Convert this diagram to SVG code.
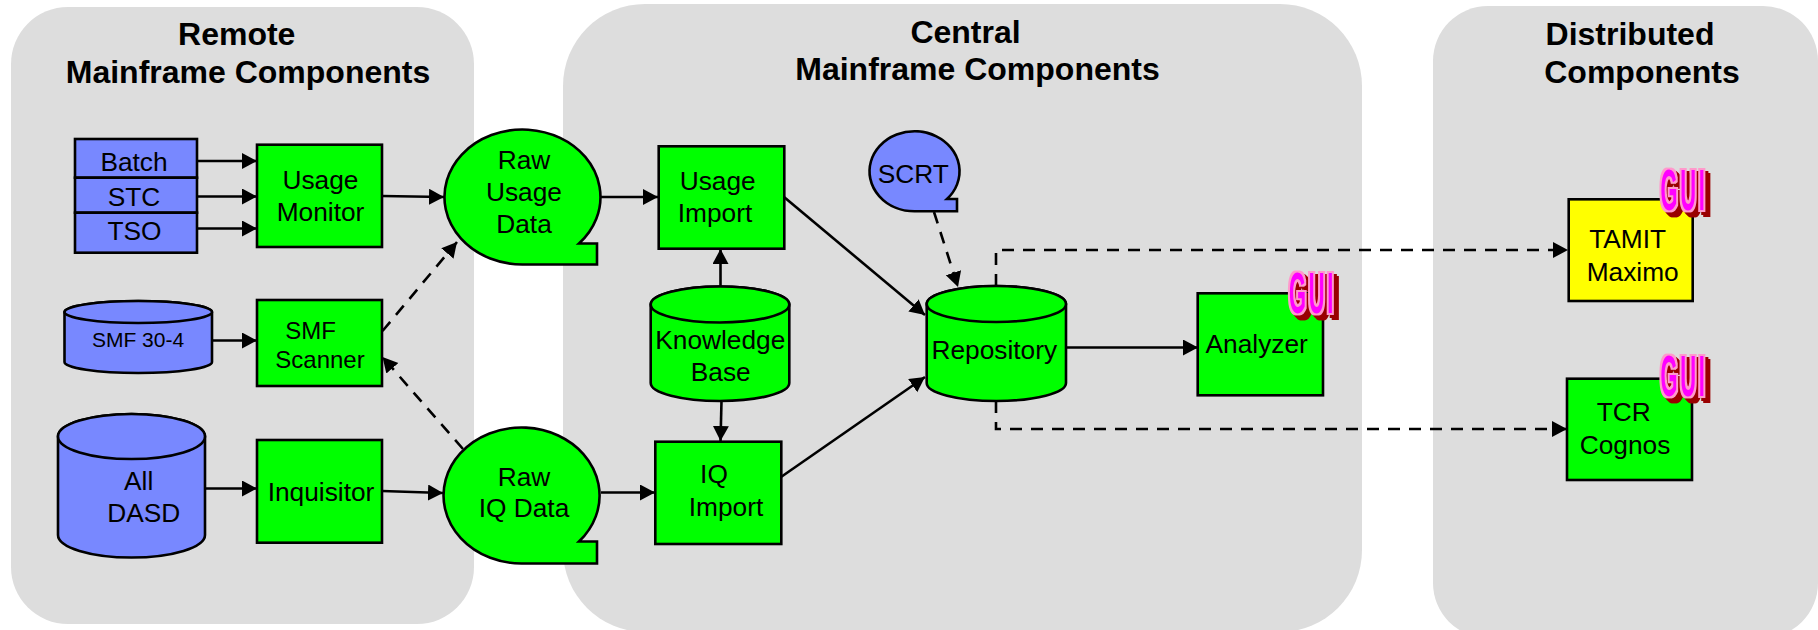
<svg xmlns="http://www.w3.org/2000/svg" width="1818" height="630" viewBox="0 0 1818 630">
<style>
text{font-family:"Liberation Sans",Arial,sans-serif;font-size:26.300px;fill:#000;text-anchor:middle}
.title{font-size:32px;font-weight:bold}
.panel{fill:#dddddd}
.b{stroke:#000;stroke-width:2.6;stroke-linejoin:miter}
.g{fill:#00ff00}
.u{fill:#7888ff}
.y{fill:#ffff00}
.c{fill:none;stroke:#000;stroke-width:2.6;marker-end:url(#a)}
.d{stroke-dasharray:12 9}
.gui{font-size:57px;font-weight:bold;letter-spacing:7px;fill:#ff00ff;text-anchor:start;filter:url(#s)}
</style>
<defs>
<marker id="a" markerUnits="userSpaceOnUse" markerWidth="16" markerHeight="18" refX="15" refY="8" orient="auto">
<path d="M0,0L15,8L0,16Z" fill="#000"/>
</marker>
<filter id="s" x="-20%" y="-20%" width="150%" height="150%" color-interpolation-filters="sRGB">
<feMorphology in="SourceAlpha" operator="dilate" radius="2" result="fat"/>
<feFlood flood-color="#ff99cc"/>
<feComposite in2="fat" operator="in" result="halo"/>
<feOffset in="fat" dx="5" dy="5" result="o1"/>
<feOffset in="fat" dx="2.5" dy="2.5" result="o2"/>
<feMerge result="m"><feMergeNode in="o1"/><feMergeNode in="o2"/></feMerge>
<feFlood flood-color="#990000"/>
<feComposite in2="m" operator="in" result="sh"/>
<feMerge><feMergeNode in="sh"/><feMergeNode in="halo"/><feMergeNode in="SourceGraphic"/></feMerge>
</filter>
</defs>

<g id="panels">
<g id="panel-remote"><rect class="panel" x="11" y="7" width="463" height="617" rx="57"/><text class="title" x="236.700" y="45">Remote</text><text class="title" x="248" y="83">Mainframe Components</text></g>
<g id="panel-central"><rect class="panel" x="563" y="4" width="799" height="628" rx="82"/><text class="title" x="965.500" y="42.500">Central</text><text class="title" x="977.500" y="79.500">Mainframe Components</text></g>
<g id="panel-distributed"><rect class="panel" x="1433" y="6" width="385" height="632" rx="55"/><text class="title" x="1630" y="45">Distributed</text><text class="title" x="1642" y="83">Components</text></g>
</g>

<g id="connectors">
<path class="c" d="M197,161H257"/>
<path class="c" d="M197,196.500H257"/>
<path class="c" d="M197,228.500H257"/>
<path class="c" d="M382,196L444,197"/>
<path class="c" d="M212,340.500H257"/>
<path class="c d" d="M382.500,331L457,242"/>
<path class="c d" d="M463,449L382.500,357"/>
<path class="c" d="M205,488.500H257"/>
<path class="c" d="M382,491L443,493"/>
<path class="c" d="M601,197H658"/>
<path class="c" d="M601,492.500H655"/>
<path class="c" d="M720.500,287V249"/>
<path class="c" d="M721.500,401L720.500,441"/>
<path class="c" d="M784,197L925,315"/>
<path class="c" d="M781,477L925,377"/>
<path class="c d" d="M934,212L958,287"/>
<path class="c" d="M1066,347.500H1198"/>
<path class="c d" d="M996,286V250H1568"/>
<path class="c d" d="M996,401V429H1567"/>
</g>

<g id="stack">
<rect class="b u" x="75" y="139" width="122" height="38.700"/><text x="134" y="170.500">Batch</text>
<rect class="b u" x="75" y="177.700" width="122" height="35"/><text x="134" y="205.500">STC</text>
<rect class="b u" x="75" y="212.700" width="122" height="40"/><text x="134.500" y="240">TSO</text>
</g>
<g id="usage-monitor"><rect class="b g" x="257" y="144.700" width="125" height="102.300"/><text x="320.500" y="189">Usage</text><text x="320.500" y="220.500">Monitor</text></g>
<g id="raw-usage"><path class="b g" d="M523,264.500A78,67.500 0 1 1 579,243.500H597V264.500Z"/><text x="524" y="168.800">Raw</text><text x="524" y="200.500">Usage</text><text x="524" y="232.800">Data</text></g>
<g id="smf-30-4"><path class="b u" d="M64.500,312V362A73.750,11 0 0 0 212,362V312A73.750,11 0 0 0 64.500,312Z"/><ellipse class="b u" cx="138.250" cy="312" rx="73.750" ry="11"/><text x="138" y="347" style="font-size:21px">SMF 30-4</text></g>
<g id="smf-scanner"><rect class="b g" x="257" y="300" width="125" height="86"/><text x="310.500" y="338.500" style="font-size:24px">SMF</text><text x="320" y="368" style="font-size:24px">Scanner</text></g>
<g id="all-dasd"><path class="b u" d="M58,436.500V535A73.500,22.500 0 0 0 205,535V436.500A73.500,22.500 0 0 0 58,436.500Z"/><ellipse class="b u" cx="131.500" cy="436.500" rx="73.500" ry="22.500"/><text x="138.700" y="490">All</text><text x="143.700" y="522">DASD</text></g>
<g id="inquisitor"><rect class="b g" x="257" y="440" width="125" height="102.700"/><text x="321" y="500.500">Inquisitor</text></g>
<g id="raw-iq"><path class="b g" d="M523,563.500A78,68 0 1 1 579,541.500H597V563.500Z"/><text x="524" y="485.500">Raw</text><text x="524" y="517">IQ Data</text></g>
<g id="usage-import"><rect class="b g" x="658.700" y="146.300" width="125.600" height="102.400"/><text x="717.700" y="190">Usage</text><text x="715" y="222">Import</text></g>
<g id="knowledge-base"><path class="b g" d="M650.700,304.500V383A69.300,18 0 0 0 789.300,383V304.500A69.300,18 0 0 0 650.700,304.500Z"/><ellipse class="b g" cx="720" cy="304.500" rx="69.300" ry="18"/><text x="720.300" y="349">Knowledge</text><text x="720.700" y="381">Base</text></g>
<g id="iq-import"><rect class="b g" x="655.300" y="441.700" width="126" height="102.300"/><text x="714" y="483">IQ</text><text x="726" y="515.500">Import</text></g>
<g id="scrt"><path class="b u" d="M915,211.300A45,40 0 1 1 947,199H957V211.300Z"/><text x="913.300" y="183">SCRT</text></g>
<g id="repository"><path class="b g" d="M926.700,304V383A69.650,18 0 0 0 1066,383V304A69.650,18 0 0 0 926.700,304Z"/><ellipse class="b g" cx="996.350" cy="304" rx="69.650" ry="18"/><text x="994.300" y="359">Repository</text></g>
<g id="analyzer"><rect class="b g" x="1197.700" y="293.300" width="125.300" height="102"/><text x="1256.700" y="353">Analyzer</text><text class="gui" x="1289" y="312.700" textLength="47" lengthAdjust="spacingAndGlyphs">GUI</text></g>
<g id="tamit-maximo"><rect class="b y" x="1568.700" y="199.300" width="124" height="101.700"/><text x="1627.700" y="248">TAMIT</text><text x="1632.700" y="280.500">Maximo</text><text class="gui" x="1660.500" y="210" textLength="47" lengthAdjust="spacingAndGlyphs">GUI</text></g>
<g id="tcr-cognos"><rect class="b g" x="1567" y="378.700" width="125" height="101.300"/><text x="1623.700" y="421">TCR</text><text x="1625" y="453.500">Cognos</text><text class="gui" x="1660.500" y="396" textLength="47" lengthAdjust="spacingAndGlyphs">GUI</text></g>
</svg>
